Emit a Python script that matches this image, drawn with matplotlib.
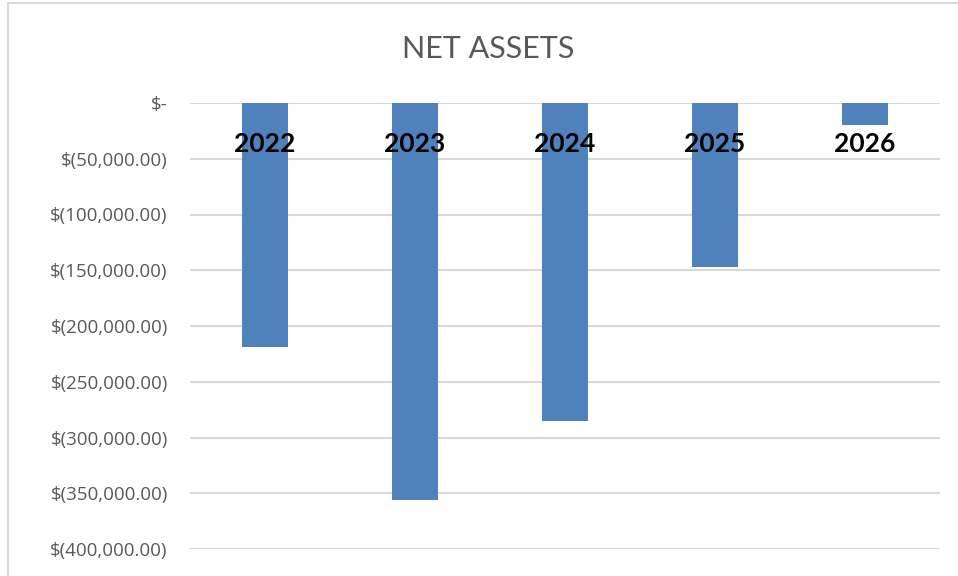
import matplotlib
matplotlib.use("Agg")
import matplotlib.pyplot as plt
from matplotlib.ticker import FuncFormatter, MultipleLocator

# data
years = ["2022", "2023", "2024", "2025", "2026"]
net_assets = [-218800, -356000, -285200, -147100, -19700]

title = "NET ASSETS"
bar_color = "#4f81bd"
grid_color = "#d9d9d9"
text_gray = "#595959"


def money(v, pos):
    if v == 0:
        return "$-"
    return "$({:,.2f})".format(abs(v))


fig = plt.figure(figsize=(9.58, 5.76), dpi=100)
ax = fig.add_axes([190 / 958, 1 - 549 / 576, 750 / 958, 446 / 576])

x = range(len(years))
ax.bar(x, net_assets, width=0.313, color=bar_color, zorder=3)

ax.set_xlim(-0.5, len(years) - 0.5)
ax.set_ylim(-400000, 0)
ax.yaxis.set_major_locator(MultipleLocator(50000))
ax.yaxis.set_major_formatter(FuncFormatter(money))
ax.grid(axis="y", color=grid_color, linewidth=1.5, zorder=0)
ax.set_xticks([])
ax.tick_params(axis="y", length=0, pad=16, labelsize=13.5, labelcolor=text_gray)
for lbl in ax.get_yticklabels():
    lbl.set_family(["Open Sans", "DejaVu Sans"])
for s in ax.spines.values():
    s.set_visible(False)

# year labels sit just under the zero line
for i, yr in enumerate(years):
    ax.annotate(yr, xy=(i, 0), xytext=(0, -29.5), textcoords="offset points",
                ha="center", va="center", fontsize=19, fontweight="bold",
                family=["Lato", "DejaVu Sans"], color="black", zorder=5)

fig.text(488 / 958, 1 - 49 / 576, title, ha="center", va="center",
         fontsize=22, color=text_gray, family=["Lato", "DejaVu Sans"],
         fontweight="normal")

# chart frame (only top and left edges are visible in the crop)
fig.add_artist(plt.Line2D([8 / 958, 1], [1 - 3 / 576, 1 - 3 / 576],
                          transform=fig.transFigure, color="#d9d9d9", lw=1.5))
fig.add_artist(plt.Line2D([8 / 958, 8 / 958], [0, 1 - 3 / 576],
                          transform=fig.transFigure, color="#d9d9d9", lw=1.5))

fig.savefig("out.png", dpi=100)
